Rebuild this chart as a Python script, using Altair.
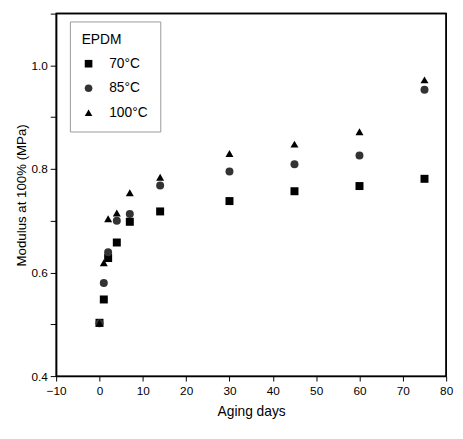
import altair as alt
import pandas as pd

days = [0, 1, 2, 4, 7, 14, 30, 45, 60, 75]
mod_70 = [0.503, 0.548, 0.628, 0.658, 0.698, 0.718, 0.738, 0.757, 0.767, 0.781]
mod_85 = [0.502, 0.580, 0.639, 0.700, 0.713, 0.768, 0.795, 0.809, 0.826, 0.953]
mod_100 = [0.502, 0.619, 0.704, 0.715, 0.754, 0.784, 0.830, 0.848, 0.872, 0.972]
series = ["70°C", "85°C", "100°C"]

rows = []
for name, vals in zip(series, [mod_70, mod_85, mod_100]):
    for d, v in zip(days, vals):
        rows.append({"days": d, "modulus": v, "temp": name})
df = pd.DataFrame(rows)

x_min, x_max = -10, 80
y_min, y_max = 0.4, 1.1

font = "Liberation Sans"

x_ticks = list(range(-10, 81, 5))
y_ticks = [0.4, 0.5, 0.6, 0.7, 0.8, 0.9, 1.0, 1.1]
x_scale = alt.Scale(domain=[x_min, x_max], nice=False, zero=False)
y_scale = alt.Scale(domain=[y_min, y_max], nice=False, zero=False)

legend = alt.Legend(title="EPDM", orient="none", legendX=14, legendY=8,
                    strokeColor="#999", fillColor="white", padding=12,
                    titleFontSize=14, titleFontWeight="normal", titleFont=font,
                    titleColor="black", titlePadding=10,
                    labelFontSize=14, labelFont=font, labelColor="black",
                    rowPadding=11, symbolSize=60, labelOffset=14,
                    symbolStrokeWidth=0)

edges = pd.DataFrame({
    "x1": [x_min, x_max],
    "x2": [x_max, x_max],
    "y1": [y_max, y_min],
    "y2": [y_max, y_max],
})
frame = alt.Chart(edges).mark_rule(color="black", strokeWidth=1.5, clip=False).encode(
    x=alt.X("x1:Q", scale=x_scale), x2="x2:Q",
    y=alt.Y("y1:Q", scale=y_scale), y2="y2:Q",
)

points = alt.Chart(df).mark_point(filled=True, opacity=1, size=66).encode(
    x=alt.X("days:Q", scale=x_scale,
            axis=alt.Axis(title="Aging days", values=x_ticks, labelFlush=False,
                          labelExpr="datum.value % 10 == 0 ? datum.label : ''",
                          grid=False, tickSize=5, labelPadding=5, titlePadding=8,
                          domainColor="black", tickColor="black", labelColor="black",
                          labelFontSize=12, titleFontSize=14, titleFontWeight="normal",
                          labelFont=font, titleFont=font, domainWidth=1.5)),
    y=alt.Y("modulus:Q", scale=y_scale,
            axis=alt.Axis(title="Modulus at 100% (MPa)", values=y_ticks, format=".1f",
                          labelFlush=False,
                          labelExpr="round(datum.value*10) % 2 == 0 && datum.value < 1.05 ? datum.label : ''",
                          grid=False, tickSize=6, labelPadding=3, titlePadding=3,
                          domainColor="black", tickColor="black", labelColor="black",
                          labelFontSize=12, titleFontSize=13.5, titleFontWeight="normal",
                          labelFont=font, titleFont=font, domainWidth=1.5)),
    shape=alt.Shape("temp:N", sort=series,
                    scale=alt.Scale(domain=series, range=["square", "circle", "triangle-up"]),
                    legend=legend),
    color=alt.Color("temp:N", sort=series,
                    scale=alt.Scale(domain=series, range=["black", "#333333", "black"]),
                    legend=legend),
)

chart = alt.layer(points, frame).properties(
    width=397, height=369,
    background="white",
    padding={"left": 6, "top": 1, "right": 2, "bottom": 0},
).configure_view(stroke="black", strokeWidth=1.5)

chart.save("out.html", embed_options={"renderer": "svg", "actions": False})
